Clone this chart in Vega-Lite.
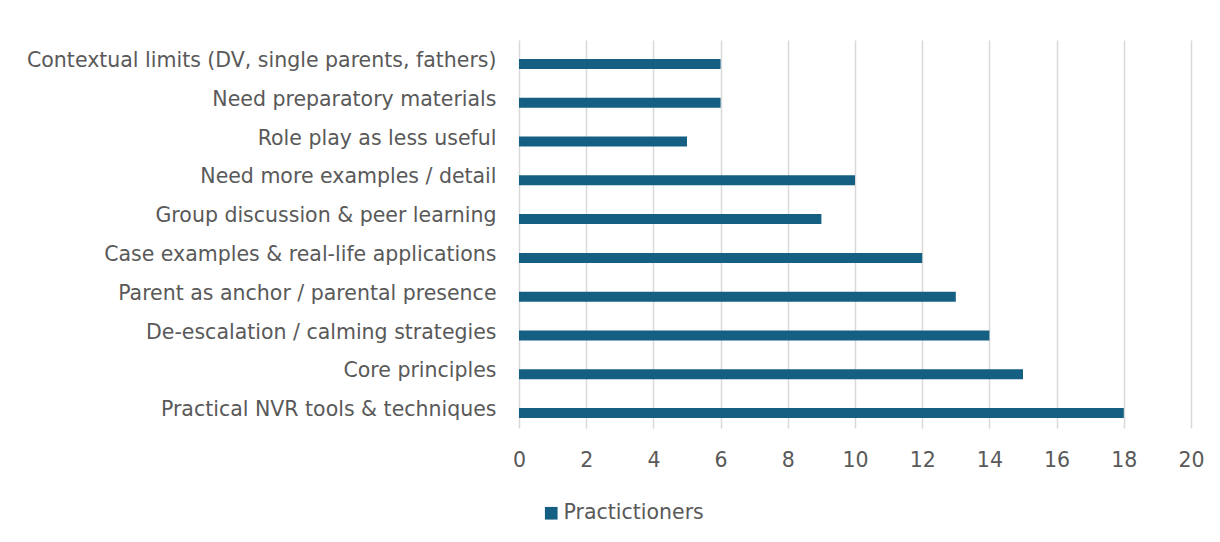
{
  "$schema": "https://vega.github.io/schema/vega-lite/v6.json",
  "autosize": {"type": "none"},
  "width": 672,
  "height": 388,
  "padding": {"left": 519, "top": 40, "right": 29, "bottom": 114},
  "background": "white",
  "config": {
    "view": {"stroke": null},
    "font": "DejaVu Sans",
    "axis": {"labelFont": "DejaVu Sans", "labelColor": "#595959", "labelFontSize": 20.5}
  },
  "data": {
    "values": [
      {"category": "Contextual limits (DV, single parents, fathers)", "count": 6, "series": "Practictioners"},
      {"category": "Need preparatory materials", "count": 6, "series": "Practictioners"},
      {"category": "Role play as less useful", "count": 5, "series": "Practictioners"},
      {"category": "Need more examples / detail", "count": 10, "series": "Practictioners"},
      {"category": "Group discussion & peer learning", "count": 9, "series": "Practictioners"},
      {"category": "Case examples & real-life applications", "count": 12, "series": "Practictioners"},
      {"category": "Parent as anchor / parental presence", "count": 13, "series": "Practictioners"},
      {"category": "De-escalation / calming strategies", "count": 14, "series": "Practictioners"},
      {"category": "Core principles", "count": 15, "series": "Practictioners"},
      {"category": "Practical NVR tools & techniques", "count": 18, "series": "Practictioners"}
    ]
  },
  "mark": {"type": "bar", "height": 10, "yOffset": 4.5},
  "encoding": {
    "y": {
      "field": "category",
      "type": "nominal",
      "sort": null,
      "scale": {"paddingInner": 0, "paddingOuter": 0},
      "axis": {"title": null, "ticks": false, "domain": false, "labelPadding": 23, "labelLimit": 600, "labelOffset": 1.5}
    },
    "x": {
      "field": "count",
      "type": "quantitative",
      "scale": {"domain": [0, 20], "nice": false},
      "axis": {
        "title": null,
        "values": [0, 2, 4, 6, 8, 10, 12, 14, 16, 18, 20],
        "grid": true,
        "gridColor": "#d9d9d9",
        "gridWidth": 1.5,
        "domain": false,
        "ticks": false,
        "labelFlush": false,
        "labelPadding": 22
      }
    },
    "color": {
      "field": "series",
      "type": "nominal",
      "scale": {"range": ["#156082"]},
      "legend": {
        "title": null,
        "orient": "none",
        "legendX": 22,
        "legendY": 463,
        "symbolType": "square",
        "symbolSize": 160,
        "symbolStrokeWidth": 0,
        "labelFontSize": 20.5,
        "labelColor": "#595959",
        "labelFont": "DejaVu Sans",
        "labelOffset": 2
      }
    }
  }
}
